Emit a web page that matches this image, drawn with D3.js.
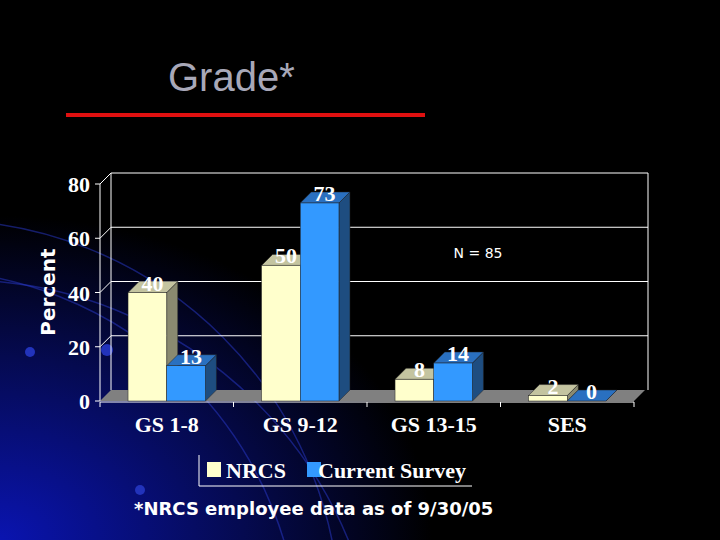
<!DOCTYPE html>
<html><head><meta charset="utf-8">
<script src="https://cdn.jsdelivr.net/npm/d3@7"></script>
<style>body{margin:0;background:#000}svg{display:block}</style>
</head><body>
<script>
const categories = ["GS 1-8", "GS 9-12", "GS 13-15", "SES"];
const seriesNames = ["NRCS", "Current Survey"];
const nrcs = [40, 50, 8, 2];
const survey = [13, 73, 14, 0];
const yTicks = [0, 20, 40, 60, 80];

const W = 720, H = 540;
const svg = d3.select("body").append("svg").attr("width", W).attr("height", H);
const defs = svg.append("defs");
const rg = defs.append("radialGradient").attr("id", "bg")
  .attr("cx", 0).attr("cy", 1).attr("r", 0.75);
rg.append("stop").attr("offset", "0").attr("stop-color", "#0a14b0");
rg.append("stop").attr("offset", "0.45").attr("stop-color", "#050a50");
rg.append("stop").attr("offset", "0.8").attr("stop-color", "#000");
svg.append("rect").attr("width", W).attr("height", H).attr("fill", "#000");
svg.append("rect").attr("width", W).attr("height", H).attr("fill", "url(#bg)");
// swoosh arcs
[[-60, 620, 400], [-80, 650, 380], [-40, 700, 420]].forEach(([cx, cy, r]) => {
  svg.append("circle").attr("cx", cx).attr("cy", cy).attr("r", r)
    .attr("fill", "none").attr("stroke", "#2a3acc").attr("stroke-opacity", 0.5).attr("stroke-width", 1.5);
});
[[30, 352, 5], [107, 350, 6], [140, 490, 5]].forEach(([x, y, r]) =>
  svg.append("circle").attr("cx", x).attr("cy", y).attr("r", r).attr("fill", "#2233bb"));

// title
svg.append("text").attr("x", 168).attr("y", 91).text("Grade*")
  .attr("font-family", "Liberation Sans, Arial").attr("font-size", 40).attr("fill", "#a8a8b8");
svg.append("line").attr("x1", 66).attr("x2", 425).attr("y1", 115).attr("y2", 115)
  .attr("stroke", "#e01010").attr("stroke-width", 4);

const dx = 11, dy = -11;
const x = d3.scaleBand().domain(categories).range([100, 634]).paddingInner(0.42).paddingOuter(0.21);
const xs = d3.scaleBand().domain(seriesNames).range([0, x.bandwidth()]);
const y = d3.scaleLinear().domain([0, 80]).range([401, 184]);
const serif = "Liberation Serif, Times New Roman";

// back wall gridlines
const g = svg.append("g");
yTicks.slice(1).forEach(t => {
  g.append("line").attr("x1", 100 + dx).attr("x2", 648).attr("y1", y(t) + dy).attr("y2", y(t) + dy)
    .attr("stroke", "#fff").attr("stroke-width", 1);
  g.append("line").attr("x1", 100).attr("x2", 100 + dx).attr("y1", y(t)).attr("y2", y(t) + dy)
    .attr("stroke", "#fff");
});
g.append("line").attr("x1", 100 + dx).attr("x2", 100 + dx).attr("y1", y(0) + dy).attr("y2", y(80) + dy).attr("stroke", "#fff");
g.append("line").attr("x1", 648).attr("x2", 648).attr("y1", y(0) + dy).attr("y2", y(80) + dy).attr("stroke", "#fff");
// floor
g.append("path").attr("d", `M100,${y(0)}L634,${y(0)}L${634 + dx},${y(0) + dy}L${100 + dx},${y(0) + dy}Z`)
  .attr("fill", "#808080");
// front axis
g.append("line").attr("x1", 100).attr("x2", 100).attr("y1", y(0)).attr("y2", y(80)).attr("stroke", "#fff");
g.append("line").attr("x1", 100).attr("x2", 634).attr("y1", y(0) + 1).attr("y2", y(0) + 1).attr("stroke", "#fff");
[100, 233.5, 367, 500.5, 634].forEach(v =>
  g.append("line").attr("x1", v).attr("x2", v).attr("y1", y(0) + 1).attr("y2", y(0) + 6).attr("stroke", "#fff"));
yTicks.forEach(t => {
  g.append("line").attr("x1", 95).attr("x2", 100).attr("y1", y(t)).attr("y2", y(t)).attr("stroke", "#fff");
  g.append("text").attr("x", 90).attr("y", y(t) + 8).attr("text-anchor", "end").text(t)
    .attr("font-family", serif).attr("font-weight", "bold").attr("font-size", 22).attr("fill", "#fff");
});
svg.append("text").attr("transform", "translate(55,292) rotate(-90)").attr("text-anchor", "middle")
  .text("Percent").attr("font-family", "DejaVu Sans").attr("font-weight", "bold").attr("font-size", 20).attr("fill", "#fff");

const styles = [
  { front: "#ffffcc", top: "#c4c4a0", side: "#8a8a70" },
  { front: "#3399ff", top: "#2a70c0", side: "#1e4d80" }
];
const series = [nrcs, survey];
categories.forEach((c, i) => {
  series.forEach((vals, s) => {
    const v = vals[i], st = styles[s];
    const x0 = x(c) + xs(seriesNames[s]), w = xs.bandwidth(), y0 = y(v), yb = y(0);
    g.append("path").attr("d", `M${x0 + w},${yb}L${x0 + w + dx},${yb + dy}L${x0 + w + dx},${y0 + dy}L${x0 + w},${y0}Z`)
      .attr("fill", st.side).attr("stroke", "#222").attr("stroke-width", 0.5);
    g.append("path").attr("d", `M${x0},${y0}L${x0 + dx},${y0 + dy}L${x0 + w + dx},${y0 + dy}L${x0 + w},${y0}Z`)
      .attr("fill", st.top).attr("stroke", "#222").attr("stroke-width", 0.5);
    g.append("rect").attr("x", x0).attr("y", y0).attr("width", w).attr("height", yb - y0)
      .attr("fill", st.front).attr("stroke", "#222").attr("stroke-width", 0.5);
    g.append("text").attr("x", x0 + w / 2 + 5).attr("y", y0 - 2).attr("text-anchor", "middle").text(v)
      .attr("font-family", serif).attr("font-weight", "bold").attr("font-size", 22).attr("fill", "#fff");
  });
  g.append("text").attr("x", x(c) + x.bandwidth() / 2).attr("y", 432).attr("text-anchor", "middle").text(c)
    .attr("font-family", serif).attr("font-weight", "bold").attr("font-size", 22).attr("fill", "#fff");
});
svg.append("text").attr("x", 478).attr("y", 258).attr("text-anchor", "middle").text("N = 85")
  .attr("font-family", "DejaVu Sans").attr("font-size", 14).attr("fill", "#fff");

// legend
const lg = svg.append("g");
lg.append("path").attr("d", "M199,455L199,486L472,486").attr("fill", "none").attr("stroke", "#fff");
[[207, 0, 226], [307, 1, 318]].forEach(([lx, s, tx]) => {
  lg.append("rect").attr("x", lx).attr("y", 462).attr("width", 14).attr("height", 15).attr("fill", styles[s].front);
  lg.append("text").attr("x", tx).attr("y", 478).text(seriesNames[s])
    .attr("font-family", serif).attr("font-weight", "bold").attr("font-size", 22).attr("fill", "#fff");
});
svg.append("text").attr("x", 134).attr("y", 515).text("*NRCS employee data as of 9/30/05")
  .attr("font-family", "DejaVu Sans").attr("font-weight", "bold").attr("font-size", 18).attr("fill", "#fff");
</script>
</body></html>
